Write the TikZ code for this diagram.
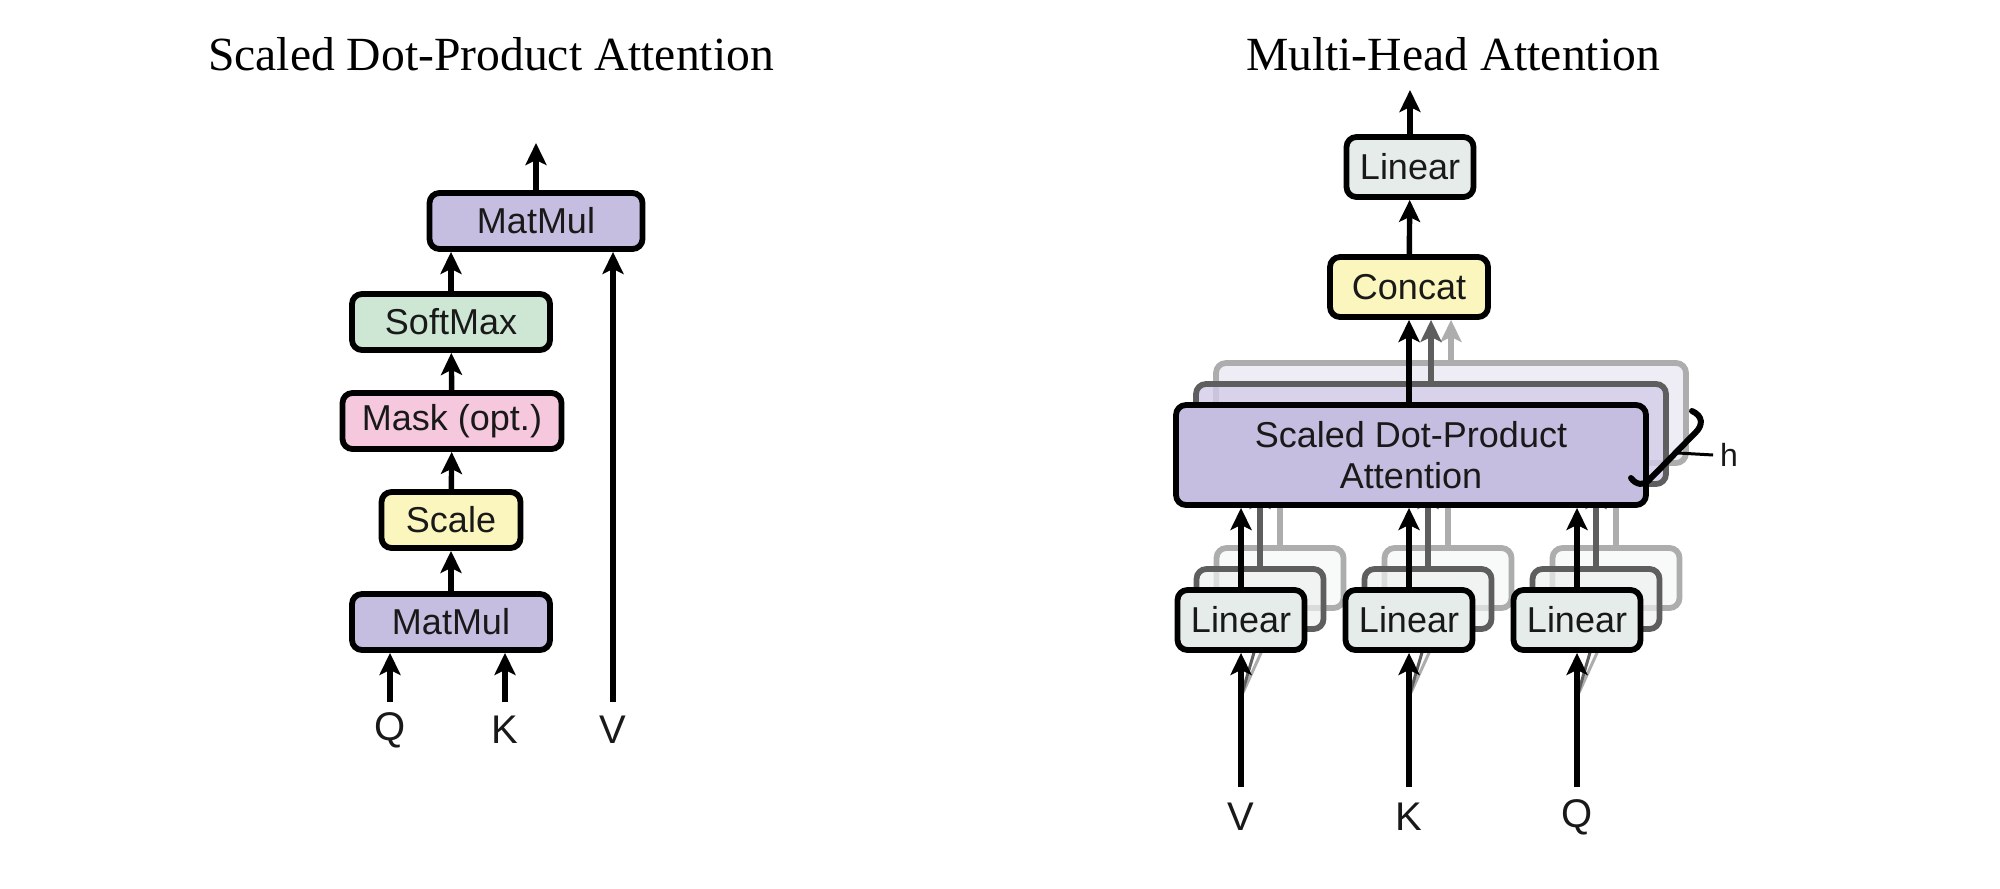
\documentclass[tikz,border=0pt]{standalone}
\usepackage{fontspec}
\setmainfont{Liberation Serif}
\newfontfamily\boxsans{Liberation Sans}
\usetikzlibrary{arrows.meta,calc}
\definecolor{purp}{HTML}{C5BEE0}
\definecolor{purpmid}{HTML}{D2CCE8}
\definecolor{purpback}{HTML}{EAE8F4}
\definecolor{softgreen}{HTML}{CEE6D4}
\definecolor{maskpink}{HTML}{F6C8DE}
\definecolor{scaleyellow}{HTML}{FAF6BE}
\definecolor{concatyellow}{HTML}{FAF6BE}
\definecolor{lingray}{HTML}{E5ECEA}
\definecolor{linmid}{HTML}{EEF1F0}
\definecolor{linback}{HTML}{F5F7F6}
\definecolor{darkline}{HTML}{5E5E5E}
\definecolor{lightline}{HTML}{ADADAD}
\begin{document}
\begin{tikzpicture}[x=0.5pt,y=-0.5pt,
  box/.style={draw=black, line width=2.9pt, rounded corners=5pt, inner sep=0pt,
    align=center, text=black!90, font=\boxsans\fontsize{18}{20.5}\selectfont},
  lbox/.style={box, minimum height=28pt},
  rbox/.style={box, minimum width=63.5pt, minimum height=30pt, fill=lingray},
  rboxmid/.style={rbox, draw=darkline, fill=linmid, fill opacity=0.7},
  rboxback/.style={rbox, draw=lightline, fill=linback, fill opacity=0.7},
  arr/.style={line width=2.7pt, -{Stealth[length=11pt,width=10.5pt,inset=2.5pt]}},
  arrdark/.style={arr, draw=darkline},
  arrlight/.style={arr, draw=lightline},
  fanline/.style={line width=1.5pt},
  qkv/.style={font=\boxsans\fontsize{20}{24}\selectfont, text=black!90},
  title/.style={font=\fontsize{23.8}{28}\selectfont}]
\useasboundingbox (0,0) rectangle (2000,888);

% ---------------- Titles ----------------
\node[title] (t1) at (491,54) {Scaled Dot-Product Attention};
\node[title] (t2) at (1453,54) {Multi-Head Attention};

% ---------------- Left: Scaled Dot-Product Attention ----------------
\node[lbox, fill=purp, minimum width=106.5pt] (mm2) at (536,221) {MatMul};
\node[lbox, fill=softgreen, minimum width=99pt] (sm) at (451,322) {SoftMax};
\node[lbox, fill=maskpink, minimum width=109.5pt] (mask) at (452,421) {Mask (opt.)};
\node[lbox, fill=scaleyellow, minimum width=69.5pt] (scale) at (451,520) {Scale};
\node[lbox, fill=purp, minimum width=99pt] (mm1) at (451,622) {MatMul};

\node[qkv] (lq) at (390,730) {Q};
\node[qkv] (lk) at (505,730) {K};
\node[qkv] (lv) at (613,730) {V};
\coordinate (lqin) at (390,702);
\coordinate (lkin) at (505,702);
\coordinate (lvin) at (613,702);
\coordinate (lout) at (536,143);

\draw[arr] (lqin) -- (lqin |- mm1.south);
\draw[arr] (lkin) -- (lkin |- mm1.south);
\draw[arr] (lvin) -- (lvin |- mm2.south);
\draw[arr] (mm1) -- (scale);
\draw[arr] (scale) -- (mask);
\draw[arr] (mask) -- (sm);
\draw[arr] (sm.north) -- (sm.north |- mm2.south);
\draw[arr] (mm2) -- (lout);

% ---------------- Right: Multi-Head Attention ----------------
\node[rbox] (lin4) at (1410,167) {Linear};
\node[box, fill=concatyellow, minimum width=79pt, minimum height=30pt] (concat) at (1409,287) {Concat};
\coordinate (rout) at (1410,90);
\draw[arr] (concat) -- (lin4);
\draw[arr] (lin4) -- (rout);

% back layer (3rd head)
\node[box, draw=lightline, fill=purpback, fill opacity=0.8, minimum width=235pt, minimum height=50pt] (sdpa3) at (1451,413) {};
\draw[arrlight] (sdpa3.north) -- (sdpa3.north |- concat.south);
\node[rboxback] (linV3) at (1280,578) {};
\node[rboxback] (linK3) at (1448,578) {};
\node[rboxback] (linQ3) at (1616,578) {};
\draw[arrlight] (linV3.north) -- (linV3.north |- sdpa3.south);
\draw[arrlight] (linK3.north) -- (linK3.north |- sdpa3.south);
\draw[arrlight] (linQ3.north) -- (linQ3.north |- sdpa3.south);

% middle layer (2nd head)
\node[box, draw=darkline, fill=purpmid, fill opacity=0.8, minimum width=235pt, minimum height=50pt] (sdpa2) at (1431,434) {};
\draw[arrdark] (sdpa2.north) -- (sdpa2.north |- concat.south);
\node[rboxmid] (linV2) at (1260,599) {};
\node[rboxmid] (linK2) at (1428,599) {};
\node[rboxmid] (linQ2) at (1596,599) {};
\draw[arrdark] (linV2.north) -- (linV2.north |- sdpa2.south);
\draw[arrdark] (linK2.north) -- (linK2.north |- sdpa2.south);
\draw[arrdark] (linQ2.north) -- (linQ2.north |- sdpa2.south);

% input fan to the hidden heads
\coordinate (fanV) at (1241,697);
\coordinate (fanK) at (1409,697);
\coordinate (fanQ) at (1577,697);
\foreach \f/\n in {fanV/linV, fanK/linK, fanQ/linQ}{
  \draw[fanline, draw=lightline] (\f) -- (\n3.south);
  \draw[fanline, draw=darkline] (\f) -- (\n2.south);
}

% front layer
\node[box, fill=purp, minimum width=235pt, minimum height=50pt] (sdpa) at (1411,455) {Scaled Dot-Product\\Attention};
\draw[arr] (sdpa.north -| concat.south) -- (concat.south);
\node[rbox] (linV) at (1241,620) {Linear};
\node[rbox] (linK) at (1409,620) {Linear};
\node[rbox] (linQ) at (1577,620) {Linear};
\draw[arr] (linV) -- (linV |- sdpa.south);
\draw[arr] (linK) -- (linK |- sdpa.south);
\draw[arr] (linQ) -- (linQ |- sdpa.south);

\node[qkv] (rv) at (1241,817) {V};
\node[qkv] (rk) at (1409,817) {K};
\node[qkv] (rq) at (1577,817) {Q};
\coordinate (rvin) at (1241,787);
\coordinate (rkin) at (1409,787);
\coordinate (rqin) at (1577,787);
\draw[arr] (rvin) -- (linV);
\draw[arr] (rkin) -- (linK);
\draw[arr] (rqin) -- (linQ);

% h bracket
\draw[line width=3pt, line cap=round] (1692,411) .. controls (1703,416) and (1703,425) .. (1696,432) -- (1649,480) .. controls (1644,486) and (1636,485) .. (1631,478);
\coordinate (hl) at (1678,453);
\node[font=\boxsans\fontsize{16}{19}\selectfont, text=black!90] (h) at (1729,455) {h};
\draw[line width=1.5pt] (hl) -- (h.west);
\end{tikzpicture}
\end{document}
